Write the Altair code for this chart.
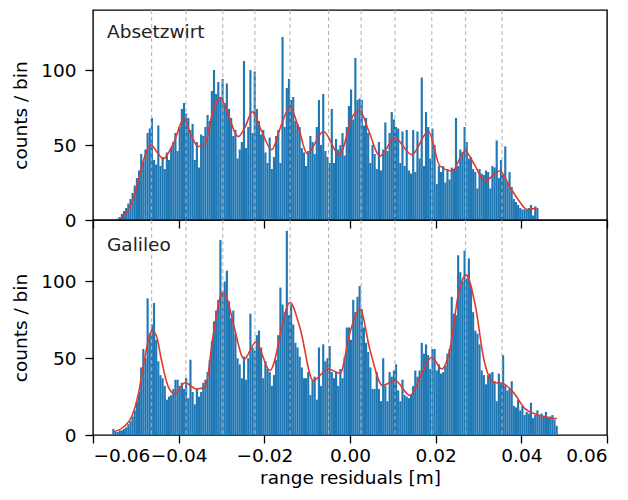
import altair as alt
import pandas as pd

# ---------------- data ----------------
BIN_W = 0.0005
top_start = -0.0545
bot_start = -0.0555

top_counts = [
    1, 2, 4, 6, 8, 11, 14, 18, 23, 28,
    33, 44, 39, 47, 58, 61, 68, 40, 37, 63,
    36, 42, 34, 45, 40, 48, 52, 58, 46, 62,
    74, 78, 71, 68, 60, 64, 40, 52, 35, 57,
    56, 62, 70, 66, 86, 100, 84, 92, 82, 94,
    78, 91, 74, 68, 56, 60, 41, 47, 52, 106,
    48, 62, 100, 58, 99, 74, 66, 57, 60, 45,
    38, 55, 34, 42, 56, 60, 38, 122, 62, 88,
    94, 80, 82, 66, 64, 62, 48, 45, 36, 46,
    56, 52, 44, 62, 80, 50, 84, 46, 42, 38,
    74, 38, 54, 47, 50, 58, 43, 62, 76, 87,
    67, 108, 80, 81, 80, 63, 68, 58, 38, 50,
    44, 34, 52, 33, 47, 65, 46, 58, 72, 67,
    62, 61, 38, 59, 36, 60, 33, 31, 60, 32,
    59, 41, 95, 36, 72, 62, 41, 61, 50, 24,
    36, 32, 36, 25, 34, 27, 35, 34, 68, 36,
    47, 45, 62, 52, 41, 42, 34, 32, 21, 34,
    31, 30, 33, 32, 21, 36, 35, 53, 28, 40,
    30, 49, 25, 32, 22, 14, 12, 10, 8, 7,
    7, 7, 8, 10, 3, 9, 8,
]

bot_counts = [
    4, 2, 2, 3, 3, 4, 5, 7, 9, 12,
    16, 22, 28, 44, 56, 50, 89, 66, 72, 86,
    62, 48, 39, 37, 32, 23, 25, 26, 30, 36,
    36, 32, 34, 30, 37, 24, 49, 28, 20, 30,
    25, 28, 34, 36, 41, 49, 61, 74, 81, 88,
    127, 92, 100, 107, 87, 76, 81, 66, 50, 46,
    37, 51, 36, 50, 79, 57, 55, 65, 68, 57,
    37, 48, 43, 41, 32, 39, 49, 65, 96, 85,
    80, 133, 78, 85, 72, 60, 57, 51, 44, 37,
    37, 41, 26, 36, 38, 23, 57, 32, 59, 48,
    50, 58, 41, 37, 41, 32, 43, 37, 51, 70,
    70, 62, 88, 80, 90, 97, 82, 70, 60, 54,
    44, 30, 30, 41, 30, 22, 50, 32, 22, 41,
    38, 42, 46, 29, 22, 36, 26, 25, 24, 26,
    32, 42, 38, 42, 60, 53, 59, 52, 43, 56,
    56, 42, 46, 40, 41, 45, 53, 56, 90, 79,
    78, 117, 106, 100, 120, 102, 115, 97, 80, 68,
    66, 59, 42, 39, 33, 39, 40, 41, 35, 22,
    40, 34, 52, 32, 29, 30, 35, 19, 18, 23,
    16, 19, 13, 15, 14, 21, 11, 13, 16, 13,
    14, 12, 15, 11, 12, 13, 10, 6,
]

top_curve_x = [-0.0535, -0.0520, -0.0506, -0.0490, -0.0479, -0.0465, -0.0450, -0.0436,
               -0.0412, -0.0387, -0.0373, -0.0354, -0.0338, -0.0323, -0.0303, -0.0288,
               -0.0261, -0.0245, -0.0228, -0.0206, -0.0183, -0.0162, -0.0140, -0.0121,
               -0.0100, -0.0062, -0.0025, 0.0008, 0.0023, 0.0043, 0.0070, 0.0105,
               0.0144, 0.0183, 0.0210, 0.0238, 0.0269, 0.0288, 0.0315, 0.0350,
               0.0374, 0.0397, 0.0413, 0.0436]
top_curve_y = [0.5, 6, 14, 31.6, 42.7, 50.2, 45, 40.8,
               51.3, 67.8, 57.9, 49, 51, 68.9, 81.6, 73.2,
               55.7, 62, 72.2, 59, 46.9, 62, 75.5, 62.3,
               44.3, 59, 43.6, 70, 72.8, 60, 42.6, 54.6,
               43.6, 59, 36, 32.7, 45.9, 38.2, 26.1, 32.7,
               21.7, 11.8, 7, 7.9]

bot_curve_x = [-0.0553, -0.0529, -0.0510, -0.0494, -0.0479, -0.0462, -0.0451, -0.0440,
               -0.0424, -0.0409, -0.0385, -0.0358, -0.0338, -0.0319, -0.0297, -0.0288,
               -0.0272, -0.0247, -0.0220, -0.0187, -0.0140, -0.0117, -0.0086, -0.0051,
               -0.0023, 0.0000, 0.0023, 0.0047, 0.0076, 0.0105, 0.0140, 0.0167,
               0.0191, 0.0214, 0.0234, 0.0253, 0.0271, 0.0292, 0.0313, 0.0335,
               0.0358, 0.0381, 0.0409, 0.0436, 0.0483]
bot_curve_y = [2, 5.2, 11.7, 26.8, 50.6, 68, 63.6, 48.5,
               31.2, 26.8, 34, 30, 31.2, 65.8, 92.8, 89.6,
               72.2, 49.5, 60.4, 42, 86.3, 70, 35.5, 43,
               40.2, 66.8, 82, 55, 32.2, 35.5, 25.8, 39.8,
               50.6, 43, 57, 91.7, 104.3, 85.2, 48.5, 34.4,
               33.3, 27.9, 17, 13.4, 10.6]

guide_x = [-0.0463, -0.0383, -0.0297, -0.0222, -0.0140, -0.0050,
           0.0026, 0.0105, 0.0191, 0.0270, 0.0355]

x_ticks = [-0.06, -0.04, -0.02, 0.00, 0.02, 0.04, 0.06]
y_ticks = [0, 50, 100]

FONT = "DejaVu Sans"
FS = 18.5


def hist_df(start, counts):
    return pd.DataFrame({
        "x0": [start + i * BIN_W for i in range(len(counts))],
        "x1": [start + (i + 1) * BIN_W for i in range(len(counts))],
        "count": counts,
    })


xscale = alt.Scale(domain=[-0.06, 0.06], nice=False, zero=False)
yscale = alt.Scale(domain=[0, 140], nice=False)


def panel(counts, start, cx, cy, label, height, bottom):
    if bottom:
        xaxis = alt.Axis(values=x_ticks, format=".2f", title="range residuals [m]",
                         tickSize=8, labelPadding=3, titlePadding=4)
    else:
        xaxis = alt.Axis(values=x_ticks, labels=False, title=None, tickSize=8)
    yaxis = alt.Axis(values=y_ticks, title="counts / bin", tickSize=8,
                     labelPadding=9, titlePadding=10)

    bars = alt.Chart(hist_df(start, counts)).mark_bar(color="#1f77b4", strokeWidth=0).encode(
        x=alt.X("x0:Q", scale=xscale, axis=xaxis),
        x2="x1:Q",
        y=alt.Y("count:Q", scale=yscale, axis=yaxis),
        y2=alt.datum(0),
    )
    rules = alt.Chart(pd.DataFrame({"gx": guide_x})).mark_rule(
        color="#b0b0b0", strokeDash=[4, 3], strokeWidth=1
    ).encode(x=alt.X("gx:Q", scale=xscale))
    curve = alt.Chart(pd.DataFrame({"cx": cx, "cy": cy})).mark_line(
        color="#e0392e", strokeWidth=1.6, interpolate="monotone"
    ).encode(x=alt.X("cx:Q", scale=xscale), y=alt.Y("cy:Q", scale=yscale))
    text = alt.Chart(pd.DataFrame({"t": [label]})).mark_text(
        align="left", baseline="alphabetic", font=FONT, fontSize=FS, color="#222222"
    ).encode(x=alt.value(14), y=alt.value(28 if not bottom else 31), text="t:N")
    return alt.layer(bars, rules, curve, text).properties(width=514, height=height)


top = panel(top_counts, top_start, top_curve_x, top_curve_y, "Absetzwirt", 210, False)
bot = panel(bot_counts, bot_start, bot_curve_x, bot_curve_y, "Galileo", 215, True)

chart = alt.vconcat(top, bot, spacing=0, bounds="flush").properties(
    padding={"left": 2, "top": 0, "right": 0, "bottom": 0}
).configure_axis(
    labelFont=FONT, titleFont=FONT, labelFontSize=FS, titleFontSize=FS,
    titleFontWeight="normal", labelColor="#000000", titleColor="#000000",
    tickColor="#000000", tickWidth=1.3, domain=False, grid=False,
).configure_view(stroke="#000000", strokeWidth=1.4)

chart.save("out.html", embed_options={"renderer": "svg", "actions": False})
